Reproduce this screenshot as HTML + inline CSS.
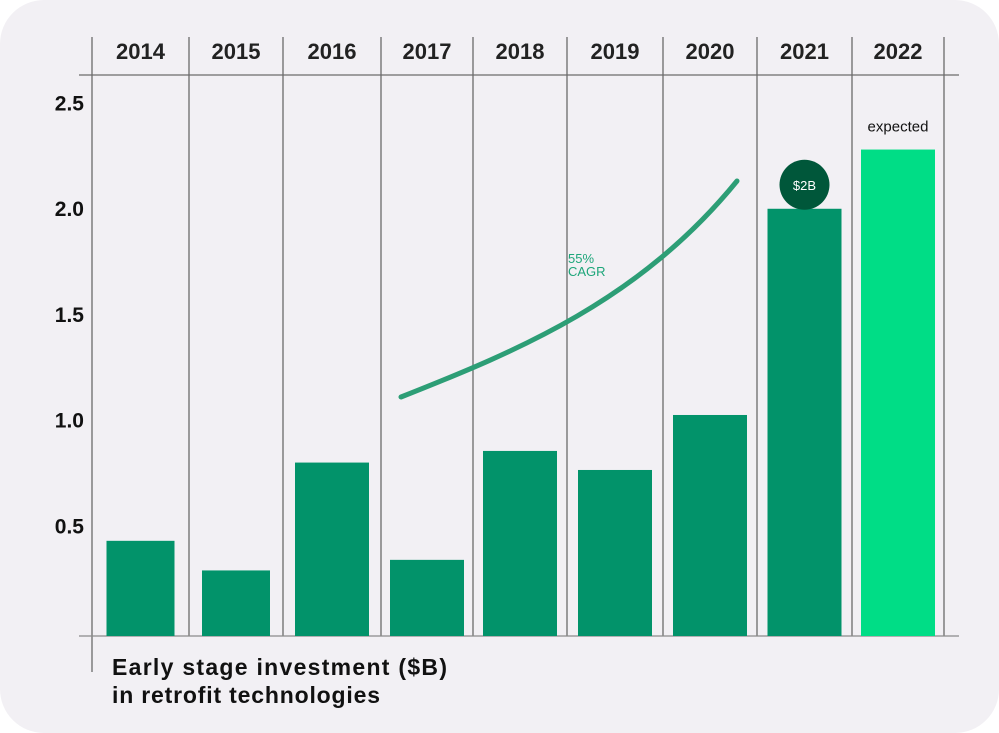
<!DOCTYPE html>
<html><head><meta charset="utf-8"><style>
html,body{margin:0;padding:0;background:#fff;}
#card{position:absolute;left:0;top:0;width:999px;height:733px;background:#f2f0f4;border-radius:44px;overflow:hidden;font-family:"Liberation Sans",sans-serif;}
</style></head><body>
<div id="card">
<svg id="chart" width="999" height="733"></svg>
</div>
<script>
const years=["2014","2015","2016","2017","2018","2019","2020","2021","2022"];
const values=[0.45,0.31,0.82,0.36,0.875,0.785,1.045,2.02,2.3];
const yTicks=[0.5,1.0,1.5,2.0,2.5];
const yTickLabels=["0.5","1.0","1.5","2.0","2.5"];
const NS="http://www.w3.org/2000/svg";
const svg=document.getElementById('chart');
const bounds=[92,189,283,381,473,567,663,757,852,944];
const y0=636,unit=211.5;
function y(v){return y0-v*unit;}
function mk(t,a,p){const e=document.createElementNS(NS,t);for(const k in a)e.setAttribute(k,a[k]);(p||svg).appendChild(e);return e;}
bounds.forEach((bx,i)=>{
 const l=mk('line',{x1:bx,x2:bx,y1:37,y2:i===0?672:636,stroke:'#6b6b6b','stroke-width':1.3});
 
 
});
const headerRule=mk('line',{x1:79,x2:959,y1:75,y2:75,stroke:'#6b6b6b','stroke-width':1.3});


const baseLine=mk('line',{x1:79,x2:959,y1:636,y2:636,stroke:'#8a8a8a','stroke-width':1.3});


years.forEach((yr,i)=>{
 const cx=(bounds[i]+bounds[i+1])/2;
 const t=mk('text',{x:cx,y:59,'text-anchor':'middle','font-size':22,'font-weight':'bold',fill:'#222'});
 t.textContent=yr;
 
 
 const w=i<2?68:74;
 const r=mk('rect',{x:cx-w/2,y:y(values[i]),width:w,height:y0-y(values[i]),fill:i===8?'#00dd86':'#02936a'});
 
 
});
yTicks.forEach((v,i)=>{
 const t=mk('text',{x:84,y:y(v)+3,'text-anchor':'end','font-size':21,'font-weight':'bold',fill:'#111'});
 t.textContent=yTickLabels[i];
 
 
});
const cx22=(bounds[8]+bounds[9])/2;
const ex=mk('text',{x:cx22,y:y(values[8])-18,'text-anchor':'middle','font-size':15,fill:'#111'});
ex.textContent='expected';


const cx21=(bounds[7]+bounds[8])/2;
const badge=mk('circle',{cx:cx21,cy:y(values[7])-24,r:25,fill:'#00573a'});


const bt=mk('text',{x:cx21,y:y(values[7])-19,'text-anchor':'middle','font-size':13,fill:'#fff'});
bt.textContent='$2B';


const cv=mk('path',{d:'M401 397 C 520 350, 640 300, 737 181',fill:'none',stroke:'#2d9e76','stroke-width':5,'stroke-linecap':'round'});


const c1=mk('text',{x:568,y:263,'font-size':13,fill:'#1ea67a'});
c1.textContent='55%';


const c2=mk('text',{x:568,y:276,'font-size':13,fill:'#1ea67a'});
c2.textContent='CAGR';


const t1=mk('text',{x:112,y:675,'font-size':23,'font-weight':'bold',fill:'#111',textLength:335,lengthAdjust:'spacing'});
t1.textContent='Early stage investment ($B)';


const t2=mk('text',{x:112,y:703,'font-size':23,'font-weight':'bold',fill:'#111',textLength:268,lengthAdjust:'spacing'});
t2.textContent='in retrofit technologies';


</script>
</body></html>
